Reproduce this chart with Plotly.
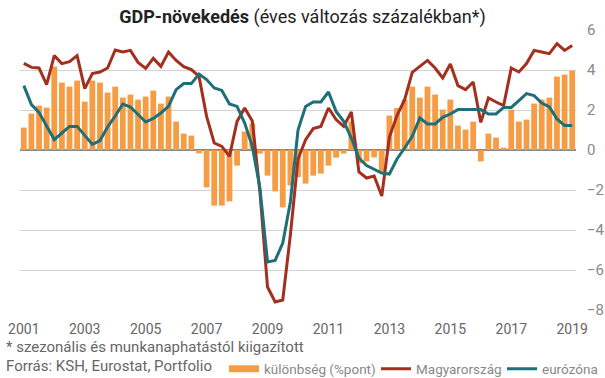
import plotly.graph_objects as go

# quarters 2001Q1 .. 2019Q1
quarters = [f"{y}Q{q}" for y in range(2001, 2020) for q in range(1, 5)][:73]

diff = [1.12, 1.82, 2.22, 2.12, 4.17, 3.37, 3.17, 3.47, 2.42, 3.47,
        3.37, 2.87, 3.17, 2.62, 2.77, 2.52, 2.67, 2.97, 2.32, 2.67,
        1.42, 0.82, 0.72, -0.17, -1.87, -2.78, -2.78, -2.57, -0.78, 0.92,
        1.33, -0.18, -1.28, -2.07, -2.87, -1.77, -1.35, -1.68, -1.28, -1.18,
        -0.78, -0.38, -0.18, 1.42, -0.67, -0.57, -0.37, -1.07, 1.72, 2.10,
        2.52, 3.17, 2.62, 3.17, 2.77, 2.02, 2.52, 1.22, 1.02, 1.42,
        -0.57, 0.82, 0.62, 0.12, 2.02, 1.42, 1.52, 2.32, 2.52, 2.62,
        3.67, 3.77, 3.97]

hungary = [4.33, 4.13, 4.10, 3.27, 4.72, 4.32, 4.42, 4.72, 3.07, 3.82,
           3.90, 4.10, 5.00, 4.90, 4.98, 4.38, 4.08, 4.58, 4.18, 4.90,
           4.48, 4.17, 4.02, 3.68, 1.68, 0.35, 0.18, -0.32, 1.43, 2.10,
           1.45, -2.10, -6.85, -7.60, -7.50, -4.25, -0.45, 0.52, 1.07, 1.18,
           2.10, 1.52, 1.18, 1.90, -1.10, -1.40, -1.30, -2.30, 0.65, 1.72,
           2.52, 3.88, 4.18, 4.48, 4.10, 3.60, 4.30, 3.22, 3.02, 3.40,
           1.38, 2.60, 2.40, 2.22, 4.10, 3.90, 4.32, 4.98, 4.90, 4.82,
           5.32, 4.98, 5.22]

eurozone = [3.22, 2.27, 1.88, 1.18, 0.52, 0.85, 1.18, 1.18, 0.72, 0.28,
            0.47, 1.15, 1.70, 2.30, 2.15, 1.77, 1.40, 1.58, 1.85, 2.18,
            3.02, 3.32, 3.32, 3.80, 3.52, 3.10, 2.98, 2.30, 2.18, 1.35,
            0.18, -1.90, -5.60, -5.52, -4.65, -2.60, 1.00, 2.18, 2.40, 2.40,
            2.90, 1.93, 1.43, 0.60, -0.40, -0.78, -0.98, -1.15, -1.20, -0.45,
            0.10, 0.68, 1.60, 1.30, 1.30, 1.63, 1.80, 2.02, 2.02, 2.02,
            2.02, 1.80, 1.80, 2.13, 2.13, 2.47, 2.82, 2.72, 2.35, 2.15,
            1.55, 1.22, 1.22]

tick_years = ["2001", "2003", "2005", "2007", "2009", "2011", "2013", "2015", "2017", "2019"]
y_ticks = [6, 4, 2, 0, -2, -4, -6, -8]

ORANGE = "#F59C45"
RED = "#A3301F"
TEAL = "#1F6F79"
FONT = "Roboto"

# plot area geometry (px)
L, R, T, B = 20, 29, 30, 68
W, H = 605, 378
PW, PH = W - L - R, H - T - B


def px_x(p):
    return (p - L) / PW


def px_y(p):
    return (H - B - p) / PH


fig = go.Figure()
fig.add_trace(go.Bar(x=quarters, y=diff, marker_color=ORANGE, marker_line_width=0,
                     showlegend=False, hoverinfo="skip"))
# legend proxy for the bars (wide swatch)
fig.add_trace(go.Scatter(x=[None], y=[None], mode="lines", name="különbség (%pont)",
                         line=dict(color=ORANGE, width=7), legend="legend"))
fig.add_trace(go.Scatter(x=quarters, y=hungary, mode="lines", name="Magyarország",
                         line=dict(color=RED, width=3), legend="legend2"))
fig.add_trace(go.Scatter(x=quarters, y=eurozone, mode="lines", name="eurózóna",
                         line=dict(color=TEAL, width=3), legend="legend3"))

leg_common = dict(orientation="h", xanchor="left", yanchor="middle", y=px_y(369),
                  font=dict(family=FONT, size=13.5, color="#888"),
                  itemwidth=30, bgcolor="rgba(0,0,0,0)")

fig.update_layout(
    width=W, height=H,
    margin=dict(l=L, r=R, t=T, b=B, autoexpand=False),
    paper_bgcolor="white", plot_bgcolor="white",
    bargap=0.24,
    font=dict(family=FONT, size=14, color="#666"),
    title=dict(text="<b>GDP-növekedés</b> (éves változás százalékban*)",
               x=0.5, xanchor="center", xref="container",
               y=1 - 17 / H, yanchor="middle", yref="container",
               font=dict(family=FONT, size=18, color="#222")),
    xaxis=dict(type="category", range=[-0.5, len(quarters) - 0.5],
               tickmode="array", tickvals=[f"{y}Q1" for y in tick_years], ticktext=tick_years,
               showgrid=False, zeroline=False, showline=False,
               ticks="outside", ticklen=6, tickcolor="rgba(0,0,0,0)",
               tickfont=dict(family=FONT, size=14, color="#666")),
    yaxis=dict(side="right", range=[-8, 6], tickvals=y_ticks,
               showgrid=True, gridcolor="#d3d3d3", gridwidth=1,
               zeroline=True, zerolinecolor="#8a8a8a", zerolinewidth=1.5,
               showline=False, ticks="outside", ticklen=7, tickcolor="rgba(0,0,0,0)",
               tickfont=dict(family=FONT, size=15, color="#8a8a8a")),
    legend=dict(x=px_x(224), **leg_common),
    legend2=dict(x=px_x(376), **leg_common),
    legend3=dict(x=px_x(502), **leg_common),
    annotations=[
        dict(text="* szezonális és munkanaphatástól kiigazított", xref="paper", yref="paper",
             x=px_x(4), y=px_y(347), xanchor="left", yanchor="middle", showarrow=False,
             font=dict(family=FONT, size=15, color="#666")),
        dict(text="Forrás: KSH, Eurostat, Portfolio", xref="paper", yref="paper",
             x=px_x(4), y=px_y(366), xanchor="left", yanchor="middle", showarrow=False,
             font=dict(family=FONT, size=15, color="#666")),
    ],
)

fig.write_html("out.html", config={"displayModeBar": False},
               post_script="document.body.style.margin='0';document.body.style.overflow='hidden';")
